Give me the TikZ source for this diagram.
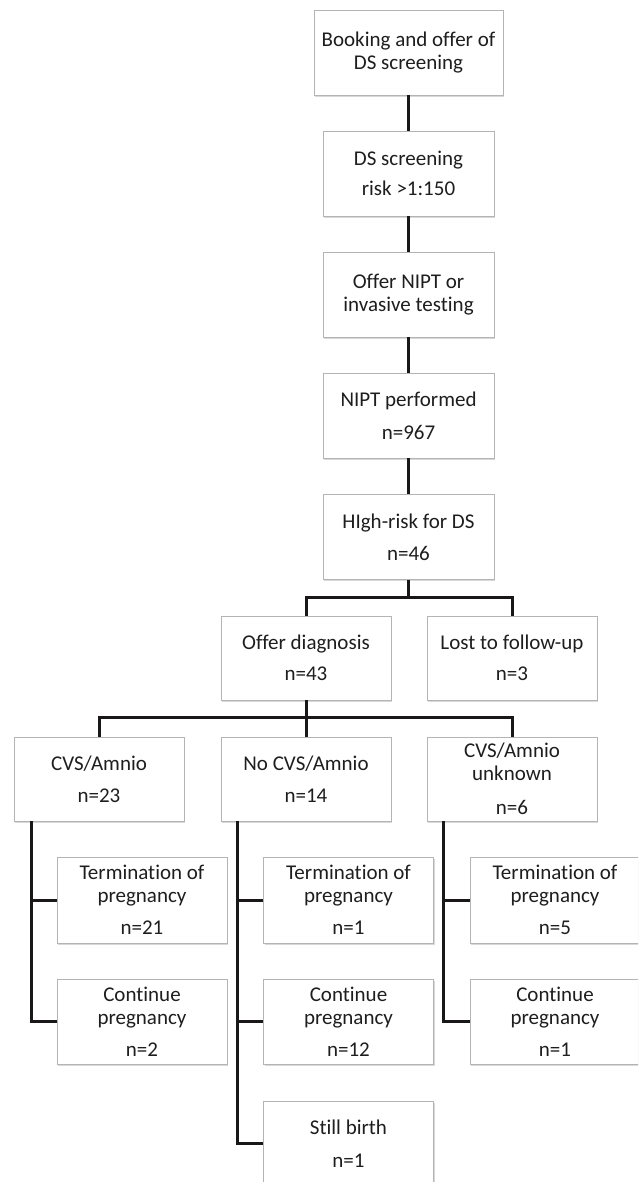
\documentclass[tikz,border=0pt]{standalone}
\usepackage{fontspec}
\setmainfont[Ligatures={NoCommon}]{Carlito}
\usetikzlibrary{shadows,calc}
\definecolor{boxline}{HTML}{B4B4B4}
\definecolor{txt}{HTML}{1E1E1E}
\definecolor{conn}{HTML}{1A1718}
\begin{document}
\begin{tikzpicture}[x=1pt,y=-1pt,
  box/.style={draw=boxline, line width=0.8pt, fill=white, minimum width=171pt, minimum height=85pt,
    inner sep=0pt, align=center, text=txt, font=\fontsize{21}{23}\selectfont,
    drop shadow={shadow xshift=1.2pt, shadow yshift=-1.8pt, opacity=0.3, fill=gray}},
  link/.style={draw=conn, line width=3pt}]
\useasboundingbox[fill=white] (0,0) rectangle (638,1182);
\begin{scope}
\clip (0,0) rectangle (638,1182);
\node[box, minimum width=189pt] (b1) at (408.5,52.5) {Booking and offer of\\DS screening};
\node[box] (b2) at (408.5,173.5) {DS screening\\[7pt]risk >1:150};
\node[box] (b3) at (408.5,294.5) {Offer NIPT or\\invasive testing};
\node[box] (b4) at (408.5,415.5) {NIPT performed\\[10pt]n=967};
\node[box] (b5) at (408.5,537) {HIgh-risk for DS\\[9pt]n=46};
\node[box, minimum width=170pt, minimum height=84pt] (od) at (306,658) {Offer diagnosis\\[8pt]n=43};
\node[box, minimum width=170pt, minimum height=84pt] (lost) at (512,658) {Lost to follow-up\\[8pt]n=3};
\node[box, minimum width=170pt, minimum height=84pt] (r1) at (99,779) {CVS/Amnio\\[9pt]n=23};
\node[box, minimum width=170pt, minimum height=84pt] (r2) at (306,779) {No CVS/Amnio\\[9pt]n=14};
\node[box, minimum width=170pt, minimum height=84pt] (r3) at (512,779) {CVS/Amnio\\unknown\\[11pt]n=6};
\node[box, minimum width=170pt, minimum height=86pt] (t1) at (142,900) {Termination of\\pregnancy\\[9pt]n=21};
\node[box, minimum width=170pt, minimum height=86pt] (t2) at (348.5,900) {Termination of\\pregnancy\\[9pt]n=1};
\node[box, minimum width=170pt, minimum height=86pt] (t3) at (555,900) {Termination of\\pregnancy\\[9pt]n=5};
\node[box, minimum width=170pt, minimum height=85pt] (c1) at (142,1021.5) {Continue\\pregnancy\\[9pt]n=2};
\node[box, minimum width=170pt, minimum height=85pt] (c2) at (348.5,1021.5) {Continue\\pregnancy\\[9pt]n=12};
\node[box, minimum width=170pt, minimum height=85pt] (c3) at (555,1021.5) {Continue\\pregnancy\\[9pt]n=1};
\node[box, minimum width=170pt, minimum height=85pt] (s2) at (348.5,1143.5) {Still birth\\[10pt]n=1};
\end{scope}
\draw[link] (b1.south) -- (b2.north);
\draw[link] (b2.south) -- (b3.north);
\draw[link] (b3.south) -- (b4.north);
\draw[link] (b4.south) -- (b5.north);
\coordinate (j1) at ($(b5.south)+(0,18)$);
\draw[link] (b5.south) -- (j1);
\draw[link] (od.north) |- (j1) -| (lost.north);
\coordinate (j2) at ($(od.south)+(0,17)$);
\draw[link] (od.south) -- (r2.north);
\draw[link] (r1.north) |- (j2) -| (r3.north);
\coordinate (v1) at ($(r1.south west)+(18,0)$);
\coordinate (v2) at ($(r2.south west)+(17,0)$);
\coordinate (v3) at ($(r3.south west)+(17,0)$);
\draw[link] (v1) |- (c1.west);
\draw[link] (t1.west) -- (t1.west -| v1);
\draw[link] (v2) |- (s2.west);
\draw[link] (t2.west) -- (t2.west -| v2);
\draw[link] (c2.west) -- (c2.west -| v2);
\draw[link] (v3) |- (c3.west);
\draw[link] (t3.west) -- (t3.west -| v3);
\end{tikzpicture}
\end{document}
